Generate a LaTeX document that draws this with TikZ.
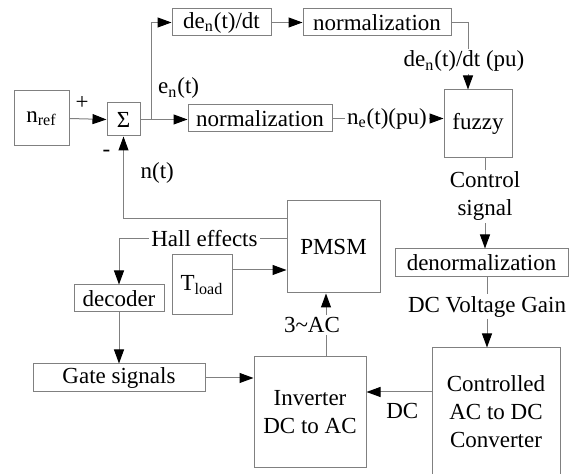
\documentclass[tikz,border=0pt]{standalone}
\usepackage{fontspec}
\setmainfont{LiberationSerif}[Extension=.ttf,UprightFont=*-Regular,BoldFont=*-Bold,ItalicFont=*-Italic,BoldItalicFont=*-BoldItalic]
\usetikzlibrary{arrows.meta}

\begin{document}
\begin{tikzpicture}[x=0.5pt,y=-0.5pt,font=\rmfamily\fontsize{11.5}{14}\selectfont,
    blk/.style={draw=gray,line width=0.5pt,inner sep=0pt,align=center},
    lbl/.style={fill=white,inner sep=1pt,align=center},
    con/.style={draw=gray,line width=0.5pt},
    arr/.style={con,-{Triangle[length=7pt,width=5pt,color=black]}}]
    \clip (0,0) rectangle (569,474);

    \node[blk,minimum width=27.5pt,minimum height=27.5pt] (nref) at (41.5,118.5) {n\textsubscript{ref}};
    \node[blk,minimum width=16.5pt,minimum height=16.5pt] (sum) at (123.5,119.5) {Σ};
    \node[blk,minimum width=49.5pt,minimum height=13.5pt] (den) at (221.5,22.5) {de\textsubscript{n}(t)/dt};
    \node[blk,minimum width=74pt,minimum height=13.5pt] (norm2) at (377,22.5) {normalization};
    \node[blk,minimum width=72pt,minimum height=13.5pt] (norm1) at (260,118.5) {normalization};
    \node[blk,minimum width=34pt,minimum height=34pt] (fuzzy) at (478,124) {fuzzy};
    \node[blk,minimum width=46.5pt,minimum height=46pt] (pmsm) at (333.5,247) {PMSM};
    \node[blk,minimum width=86.5pt,minimum height=14pt] (denorm) at (481.5,263) {denormalization};
    \node[blk,minimum width=64pt,minimum height=64pt] (conv) at (496,412) {Controlled\\AC to DC\\Converter};
    \node[blk,minimum width=56pt,minimum height=55.5pt] (inv) at (310,412.5) {Inverter\\DC to AC};
    \node[blk,minimum width=45pt,minimum height=13.5pt] (dec) at (119,298.5) {decoder};
    \node[blk,minimum width=30pt,minimum height=30pt] (tload) at (202,285) {T\textsubscript{load}};
    \node[blk,minimum width=86pt,minimum height=14pt] (gate) at (119,378) {Gate signals};
    \coordinate (jn) at (151,119.5);

    % speed error path
    \draw[arr] (nref.east) -- node[pos=.34,above=1pt]{+} (sum.west);
    \draw[con] (sum.east) -- (jn);
    \draw[arr] (jn) -- (jn -| norm1.west);
    \draw[arr] (jn) |- node[pos=.16,right=0pt]{e\textsubscript{n}(t)} (den.west);
    \draw[arr] (den.east) -- (norm2.west);
    \draw[arr] (norm2.east) -| node[lbl,pos=.79,xshift=-2pt]{de\textsubscript{n}(t)/dt (pu)} ([xshift=-5pt]fuzzy.north);
    \draw[arr] (norm1.east) -- node[lbl,pos=.49]{n\textsubscript{e}(t)(pu)} (norm1.east -| fuzzy.west);

    % power stage
    \draw[arr] ([xshift=3.5pt]fuzzy.south) -- node[lbl,pos=.42]{Control\\signal} ([xshift=3.5pt]fuzzy.south |- denorm.north);
    \draw[arr] ([xshift=2.75pt]denorm.south) -- node[lbl,pos=.42]{DC Voltage Gain} ([xshift=2.75pt]denorm.south |- conv.north);
    \draw[arr] ([yshift=10pt]conv.west) -- node[pos=.45,below=2pt]{DC} ([yshift=10pt]conv.west -| inv.east);
    \draw[arr] ([xshift=8pt]inv.north) -- node[lbl,pos=.5,xshift=-7pt]{3\textasciitilde AC} ([xshift=8pt]inv.north |- pmsm.south);

    % feedback and gating
    \draw[arr] ([yshift=14pt]pmsm.west) -| node[pos=.78,right=5pt]{n(t)} node[pos=.9,left=3pt]{-} (sum.south);
    \draw[arr] ([yshift=4pt]pmsm.west) -| node[lbl,pos=.245]{Hall effects} (dec.north);
    \draw[arr] ([yshift=7.5pt]tload.east) -- ([yshift=7.5pt]tload.east -| pmsm.west);
    \draw[arr] (dec.south) -- (gate.north);
    \draw[arr] (gate.east) -- (gate.east -| inv.west);
\end{tikzpicture}
\end{document}
